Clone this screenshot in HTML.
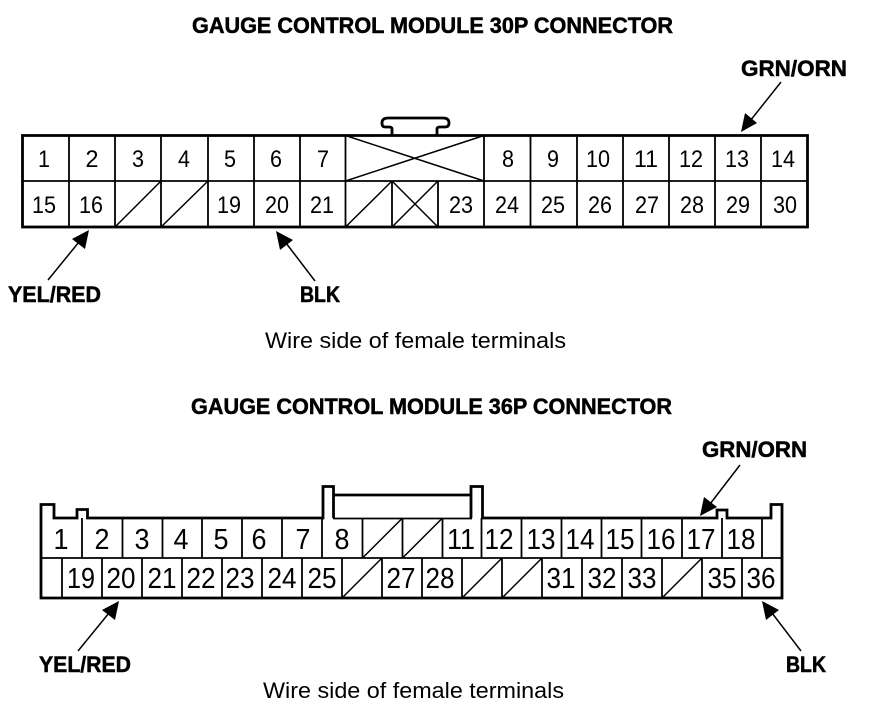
<!DOCTYPE html>
<html><head><meta charset="utf-8">
<style>
html,body{margin:0;padding:0;background:#fff;width:880px;height:724px;overflow:hidden}
svg{display:block}
text{font-family:"Liberation Sans",sans-serif;fill:#000}
.b{font-weight:bold;font-size:22px;stroke:#000;stroke-width:.5px}
.w{font-size:22px}
.t{font-size:24px;text-anchor:middle}
.u{font-size:29px;text-anchor:middle}
.i{stroke:#000;stroke-width:1.8;fill:none}
.o{stroke:#000;stroke-width:2.8;fill:none}
.d{stroke:#000;stroke-width:1.5;fill:none}
.h{fill:#000;stroke:none}
</style></head><body>
<svg width="880" height="724" viewBox="0 0 880 724" xmlns="http://www.w3.org/2000/svg">
<text class="b" x="192" y="33" textLength="481" lengthAdjust="spacingAndGlyphs">GAUGE CONTROL MODULE 30P CONNECTOR</text>
<text class="b" x="191" y="414" textLength="481" lengthAdjust="spacingAndGlyphs">GAUGE CONTROL MODULE 36P CONNECTOR</text>
<text class="w" x="265" y="348" textLength="301" lengthAdjust="spacingAndGlyphs">Wire side of female terminals</text>
<text class="w" x="263" y="698" textLength="301" lengthAdjust="spacingAndGlyphs">Wire side of female terminals</text>
<text class="b" x="741" y="76" textLength="106" lengthAdjust="spacingAndGlyphs">GRN/ORN</text>
<text class="b" x="8" y="302" textLength="93" lengthAdjust="spacingAndGlyphs">YEL/RED</text>
<text class="b" x="300" y="302" textLength="40" lengthAdjust="spacingAndGlyphs">BLK</text>
<text class="b" x="702" y="457" textLength="105" lengthAdjust="spacingAndGlyphs">GRN/ORN</text>
<text class="b" x="39" y="672" textLength="92" lengthAdjust="spacingAndGlyphs">YEL/RED</text>
<text class="b" x="786" y="672" textLength="40" lengthAdjust="spacingAndGlyphs">BLK</text>

<!-- 30P connector -->
<path class="o" d="M392 135V129Q392 127 389 127H385Q382 127 382 123Q382 118 388 118H443Q449 118 449 123Q449 127 445 127H440Q437 127 437 129V135"/>
<rect class="o" x="22.5" y="135.5" width="785" height="91.500"/>
<line class="i" x1="22" y1="181" x2="807" y2="181"/>
<path class="i" d="M69 135V227M115 135V227M161 135V227M208 135V227M254 135V227M300 135V227M345.500 135V227M484 135V227M530.500 135V227M577 135V227M623 135V227M669 135V227M715 135V227M761 135V227M392 181V227M438 181V227"/>
<path class="d" d="M345.500 135.500L484 181M345.500 181L484 135.500M115 227L161 181M161 227L208 181M345.500 227L392 181M392 227L438 181M392 181L438 227"/>
<text class="t" x="44" y="167" textLength="12" lengthAdjust="spacingAndGlyphs">1</text>
<text class="t" x="92" y="167" textLength="13" lengthAdjust="spacingAndGlyphs">2</text>
<text class="t" x="138" y="167" textLength="12" lengthAdjust="spacingAndGlyphs">3</text>
<text class="t" x="184" y="167" textLength="12" lengthAdjust="spacingAndGlyphs">4</text>
<text class="t" x="230" y="167" textLength="12" lengthAdjust="spacingAndGlyphs">5</text>
<text class="t" x="276" y="167" textLength="12" lengthAdjust="spacingAndGlyphs">6</text>
<text class="t" x="323" y="167" textLength="12" lengthAdjust="spacingAndGlyphs">7</text>
<text class="t" x="508" y="167" textLength="12" lengthAdjust="spacingAndGlyphs">8</text>
<text class="t" x="553" y="167" textLength="12" lengthAdjust="spacingAndGlyphs">9</text>
<text class="t" x="598" y="167" textLength="24" lengthAdjust="spacingAndGlyphs">10</text>
<text class="t" x="646" y="167" textLength="24" lengthAdjust="spacingAndGlyphs">11</text>
<text class="t" x="691" y="167" textLength="24" lengthAdjust="spacingAndGlyphs">12</text>
<text class="t" x="737" y="167" textLength="24" lengthAdjust="spacingAndGlyphs">13</text>
<text class="t" x="783" y="167" textLength="24" lengthAdjust="spacingAndGlyphs">14</text>
<text class="t" x="44" y="213" textLength="24" lengthAdjust="spacingAndGlyphs">15</text>
<text class="t" x="91" y="213" textLength="24" lengthAdjust="spacingAndGlyphs">16</text>
<text class="t" x="229" y="213" textLength="24" lengthAdjust="spacingAndGlyphs">19</text>
<text class="t" x="277" y="213" textLength="24" lengthAdjust="spacingAndGlyphs">20</text>
<text class="t" x="322" y="213" textLength="24" lengthAdjust="spacingAndGlyphs">21</text>
<text class="t" x="461" y="213" textLength="24" lengthAdjust="spacingAndGlyphs">23</text>
<text class="t" x="507" y="213" textLength="24" lengthAdjust="spacingAndGlyphs">24</text>
<text class="t" x="553" y="213" textLength="24" lengthAdjust="spacingAndGlyphs">25</text>
<text class="t" x="600" y="213" textLength="24" lengthAdjust="spacingAndGlyphs">26</text>
<text class="t" x="647" y="213" textLength="24" lengthAdjust="spacingAndGlyphs">27</text>
<text class="t" x="692" y="213" textLength="24" lengthAdjust="spacingAndGlyphs">28</text>
<text class="t" x="738" y="213" textLength="24" lengthAdjust="spacingAndGlyphs">29</text>
<text class="t" x="785" y="213" textLength="24" lengthAdjust="spacingAndGlyphs">30</text>

<!-- 36P connector -->
<path class="o" d="M471 518V486.500H482.500V518H717V510H727V518H771V504.500H782V598H41V504.500H54V518H77V509.500H87.500V518H323V486.500H333.500V518M333.500 495H471"/>
<line class="i" x1="333" y1="518.500" x2="472" y2="518.500"/>
<line class="i" x1="41" y1="558" x2="782" y2="558"/>
<path class="i" d="M82 518V558M122.500 518V558M162.500 518V558M202 518V558M242 518V558M282 518V558M322 518V558M362.500 518V558M402.500 518V558M442.500 518V558M481.500 518V558M521.500 518V558M561.500 518V558M601.500 518V558M641.500 518V558M682 518V558M722 518V558M762 518V558"/>
<path class="i" d="M62 558V598M102 558V598M142 558V598M182 558V598M222 558V598M262 558V598M302 558V598M342 558V598M382 558V598M422 558V598M462 558V598M502 558V598M542 558V598M582 558V598M622 558V598M662 558V598M702 558V598M742 558V598"/>
<path class="d" d="M362.500 558L402.500 518M402.500 558L442.500 518M342 598L382 558M462 598L502 558M502 598L542 558M662 598L702 558"/>
<text class="u" x="61" y="549" textLength="15" lengthAdjust="spacingAndGlyphs">1</text>
<text class="u" x="102" y="549" textLength="15" lengthAdjust="spacingAndGlyphs">2</text>
<text class="u" x="142" y="549" textLength="15" lengthAdjust="spacingAndGlyphs">3</text>
<text class="u" x="181" y="549" textLength="15" lengthAdjust="spacingAndGlyphs">4</text>
<text class="u" x="221" y="549" textLength="15" lengthAdjust="spacingAndGlyphs">5</text>
<text class="u" x="259" y="549" textLength="15" lengthAdjust="spacingAndGlyphs">6</text>
<text class="u" x="303" y="549" textLength="15" lengthAdjust="spacingAndGlyphs">7</text>
<text class="u" x="342" y="549" textLength="15" lengthAdjust="spacingAndGlyphs">8</text>
<text class="u" x="461" y="549" textLength="28" lengthAdjust="spacingAndGlyphs">11</text>
<text class="u" x="499" y="549" textLength="29" lengthAdjust="spacingAndGlyphs">12</text>
<text class="u" x="541" y="549" textLength="29" lengthAdjust="spacingAndGlyphs">13</text>
<text class="u" x="580" y="549" textLength="29" lengthAdjust="spacingAndGlyphs">14</text>
<text class="u" x="620" y="549" textLength="29" lengthAdjust="spacingAndGlyphs">15</text>
<text class="u" x="661" y="549" textLength="29" lengthAdjust="spacingAndGlyphs">16</text>
<text class="u" x="701" y="549" textLength="29" lengthAdjust="spacingAndGlyphs">17</text>
<text class="u" x="741" y="549" textLength="29" lengthAdjust="spacingAndGlyphs">18</text>
<text class="u" x="81" y="588" textLength="28" lengthAdjust="spacingAndGlyphs">19</text>
<text class="u" x="121" y="588" textLength="29" lengthAdjust="spacingAndGlyphs">20</text>
<text class="u" x="162" y="588" textLength="29" lengthAdjust="spacingAndGlyphs">21</text>
<text class="u" x="201" y="588" textLength="29" lengthAdjust="spacingAndGlyphs">22</text>
<text class="u" x="240" y="588" textLength="29" lengthAdjust="spacingAndGlyphs">23</text>
<text class="u" x="282" y="588" textLength="29" lengthAdjust="spacingAndGlyphs">24</text>
<text class="u" x="322" y="588" textLength="29" lengthAdjust="spacingAndGlyphs">25</text>
<text class="u" x="401" y="588" textLength="29" lengthAdjust="spacingAndGlyphs">27</text>
<text class="u" x="440" y="588" textLength="29" lengthAdjust="spacingAndGlyphs">28</text>
<text class="u" x="561" y="588" textLength="29" lengthAdjust="spacingAndGlyphs">31</text>
<text class="u" x="602" y="588" textLength="29" lengthAdjust="spacingAndGlyphs">32</text>
<text class="u" x="642" y="588" textLength="29" lengthAdjust="spacingAndGlyphs">33</text>
<text class="u" x="722" y="588" textLength="29" lengthAdjust="spacingAndGlyphs">35</text>
<text class="u" x="761" y="588" textLength="29" lengthAdjust="spacingAndGlyphs">36</text>

<!-- arrows -->
<line class="d" x1="781" y1="82" x2="750" y2="121"/>
<line class="d" x1="48" y1="280" x2="79" y2="242"/>
<line class="d" x1="315" y1="281" x2="286" y2="243"/>
<line class="d" x1="740" y1="465" x2="710" y2="504"/>
<line class="d" x1="78" y1="651" x2="109" y2="613"/>
<line class="d" x1="801" y1="651" x2="772" y2="613"/>
<polygon class="h" points="741,132 745,113 757,123"/>
<polygon class="h" points="89,230 85,249 72,239"/>
<polygon class="h" points="276,231 293,240 280,250"/>
<polygon class="h" points="700,516 704,497 717,507"/>
<polygon class="h" points="119,601 115,620 102,610"/>
<polygon class="h" points="762,601 779,610 766,620"/>
</svg>
</body></html>
